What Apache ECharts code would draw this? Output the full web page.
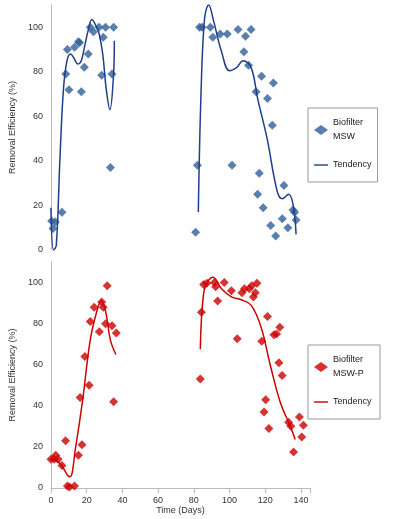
<!DOCTYPE html>
<html>
<head>
<meta charset="utf-8">
<script src="https://cdn.jsdelivr.net/npm/echarts@6/dist/echarts.min.js"></script>
<style>html,body{margin:0;padding:0;background:#fff}#chart{width:412px;height:519px}</style>
</head>
<body>
<div id="chart"></div>
<script>
// top chart: Biofilter MSW
var mswPoints = [
  [0.4,13],[1.2,9.6],[2.5,12.6],[6.2,17],[8.3,79],[9.2,90],[10.1,72],[13.2,91],[15.4,93.5],[16,93],
  [17,71],[18.7,82],[20.9,88],[22,100],[23.8,98],[26.9,100],[28.4,78.5],[29.3,95.5],[30.6,100],
  [33.3,37],[34.2,79],[35.1,100],
  [81,8],[82,38],[83.2,100],[84.6,100],[89.2,100],[90.6,95.5],[94.7,97],[98.7,97],[104.7,99],
  [101.4,38],[108.9,96],[112,99],[108,89],[110.6,83],[114.8,71],[117.9,78],[116.6,34.5],[115.7,25],
  [118.8,19],[121.2,68],[123.9,56],[124.5,75],[123,11],[125.8,6.3],[129.5,14],[130.4,29],
  [132.6,10],[135.5,18],[136.4,17],[137.2,13.5]
];
var mswTrend = [
  [0,19],[1.5,0],[3,2],[5,40],[7,72],[9,85],[11,88],[13,86],[15,83.5],[17,85],[19,92],[21,99],
  [23,103.5],[25,101],[27,97],[29,88],[31,72],[33,63],[35,78],[35.5,94],
  [null,null],
  [82.5,17],[84,70],[86,104],[88.3,110],[91,103],[95.5,89],[100,80.5],[104,82],[107.5,85],[112,82],
  [115.7,68],[121,50],[126.6,26.5],[129.5,23],[133,25],[135.5,20.5],[137.2,7]
];
// bottom chart: Biofilter MSW-P
var mswpPoints = [
  [0,14],[1.8,14],[2.7,16],[4,14],[6.2,11],[8.2,23],[9.2,1],[10.4,0.5],[13.2,1],[15.4,16],[16.3,44],
  [17.4,21],[19,64],[21.4,50],[22,81],[24.2,88],[27.1,76],[28.4,90.5],[29.3,88],[30.6,80],[31.5,98.5],
  [34.2,79],[35.1,42],[36.6,75.5],
  [83.6,53],[84.2,85.5],[85.5,99],[87.3,99.7],[91.5,100],[92.2,98],[93.3,91],[97,100],[101,96],
  [104.3,72.6],[106.9,95],[108.3,97],[111,97],[112.4,98.4],[113.3,93],[114.4,95],[115.3,99.7],
  [118,71.4],[119.3,37],[120.2,43],[121.2,83.5],[122,29],[124.8,74.6],[126.3,75],[128.1,78.3],
  [127.6,61],[129.4,54.7],[133,32],[134.3,30],[135.8,17.5],[139.1,34.5],[140.4,24.8],[141.3,30.6]
];
var mswpTrend = [
  [0,14],[5,12],[9.5,6],[10.8,5.5],[13.7,19],[17.8,43],[22,72],[26,87],[28.2,91],[30.6,86],[33.3,72],[36.4,65],
  [null,null],
  [83.6,67.6],[85.5,95],[88.2,101],[90.6,102.6],[95.5,97],[101,93],[106.5,91.6],[112,89],[117.5,78.6],
  [123,59],[128.5,41.4],[134,30],[136.7,23.6]
];
var yTicks = [0, 20, 40, 60, 80, 100];

var blue = "#2f5f98";
var red = "#cc0000";
var font = "Liberation Sans";
var lineIcon = "path://M0,4L20,4L20,6L0,6Z";

function yAxis(idx) {
  return {
    gridIndex: idx, type: "value", min: 0, max: 110, interval: 20,
    name: "Removal Efficiency (%)", nameLocation: "middle", nameGap: 24,
    nameTextStyle: { fontSize: 9, color: "#333", fontFamily: font },
    axisLine: { show: true, lineStyle: { color: "#bbb" } },
    axisTick: { show: false },
    splitLine: { show: false },
    axisLabel: {
      fontSize: 9, color: "#333", fontFamily: font,
      formatter: function (v) { return yTicks.indexOf(v) >= 0 ? v : ""; }
    }
  };
}

function legend(top, names, color) {
  return {
    orient: "vertical", left: 308, top: top, width: 80, itemGap: 14, padding: [8, 6, 10, 6],
    borderColor: "#999", borderWidth: 1, itemWidth: 14, itemHeight: 10,
    textStyle: { fontSize: 9, color: "#222", fontFamily: font, lineHeight: 14 },
    data: [
      { name: names[0], icon: "diamond" },
      { name: names[1], icon: lineIcon, itemStyle: { color: color } }
    ]
  };
}

var option = {
  animation: false,
  backgroundColor: "#fff",
  grid: [
    { left: 46, right: 102, top: 5, bottom: 269 },
    { left: 46, right: 102, top: 262, bottom: 31 }
  ],
  xAxis: [
    { gridIndex: 0, type: "value", min: 0, max: 145, interval: 20,
      axisLine: { show: false }, axisTick: { show: false }, axisLabel: { show: false }, splitLine: { show: false } },
    { gridIndex: 1, type: "value", min: 0, max: 145, interval: 20,
      name: "Time (Days)", nameLocation: "middle", nameGap: 17,
      nameTextStyle: { fontSize: 9, color: "#333", fontFamily: font },
      axisLine: { show: true, onZero: false, lineStyle: { color: "#bbb" } },
      axisTick: { show: true, lineStyle: { color: "#bbb" } },
      splitLine: { show: false },
      axisLabel: { fontSize: 9, color: "#333", fontFamily: font,
        formatter: function (v) { return v <= 140 ? v : ""; } } }
  ],
  yAxis: [yAxis(0), yAxis(1)],
  legend: [
    legend(108, ["Biofilter\nMSW", "Tendency"], "#1f3f8a"),
    legend(345, ["Biofilter\nMSW-P", "Tendency "], red)
  ],
  series: [
    { name: "Biofilter\nMSW", type: "scatter", xAxisIndex: 0, yAxisIndex: 0, data: mswPoints,
      symbol: "diamond", symbolSize: 9, itemStyle: { color: blue } },
    { name: "Tendency", type: "line", xAxisIndex: 0, yAxisIndex: 0, data: mswTrend, smooth: 0.4,
      showSymbol: false, connectNulls: false, clip: true, lineStyle: { color: "#1f3f8a", width: 1.5 }, itemStyle: { color: "#1f3f8a" } },
    { name: "Biofilter\nMSW-P", type: "scatter", xAxisIndex: 1, yAxisIndex: 1, data: mswpPoints,
      symbol: "diamond", symbolSize: 9, itemStyle: { color: red } },
    { name: "Tendency ", type: "line", xAxisIndex: 1, yAxisIndex: 1, data: mswpTrend, smooth: 0.4,
      showSymbol: false, connectNulls: false, clip: true, lineStyle: { color: red, width: 1.5 }, itemStyle: { color: red } }
  ]
};

var myChart = echarts.init(document.getElementById("chart"), null, { renderer: "canvas" });
myChart.setOption(option);
</script>
</body>
</html>
